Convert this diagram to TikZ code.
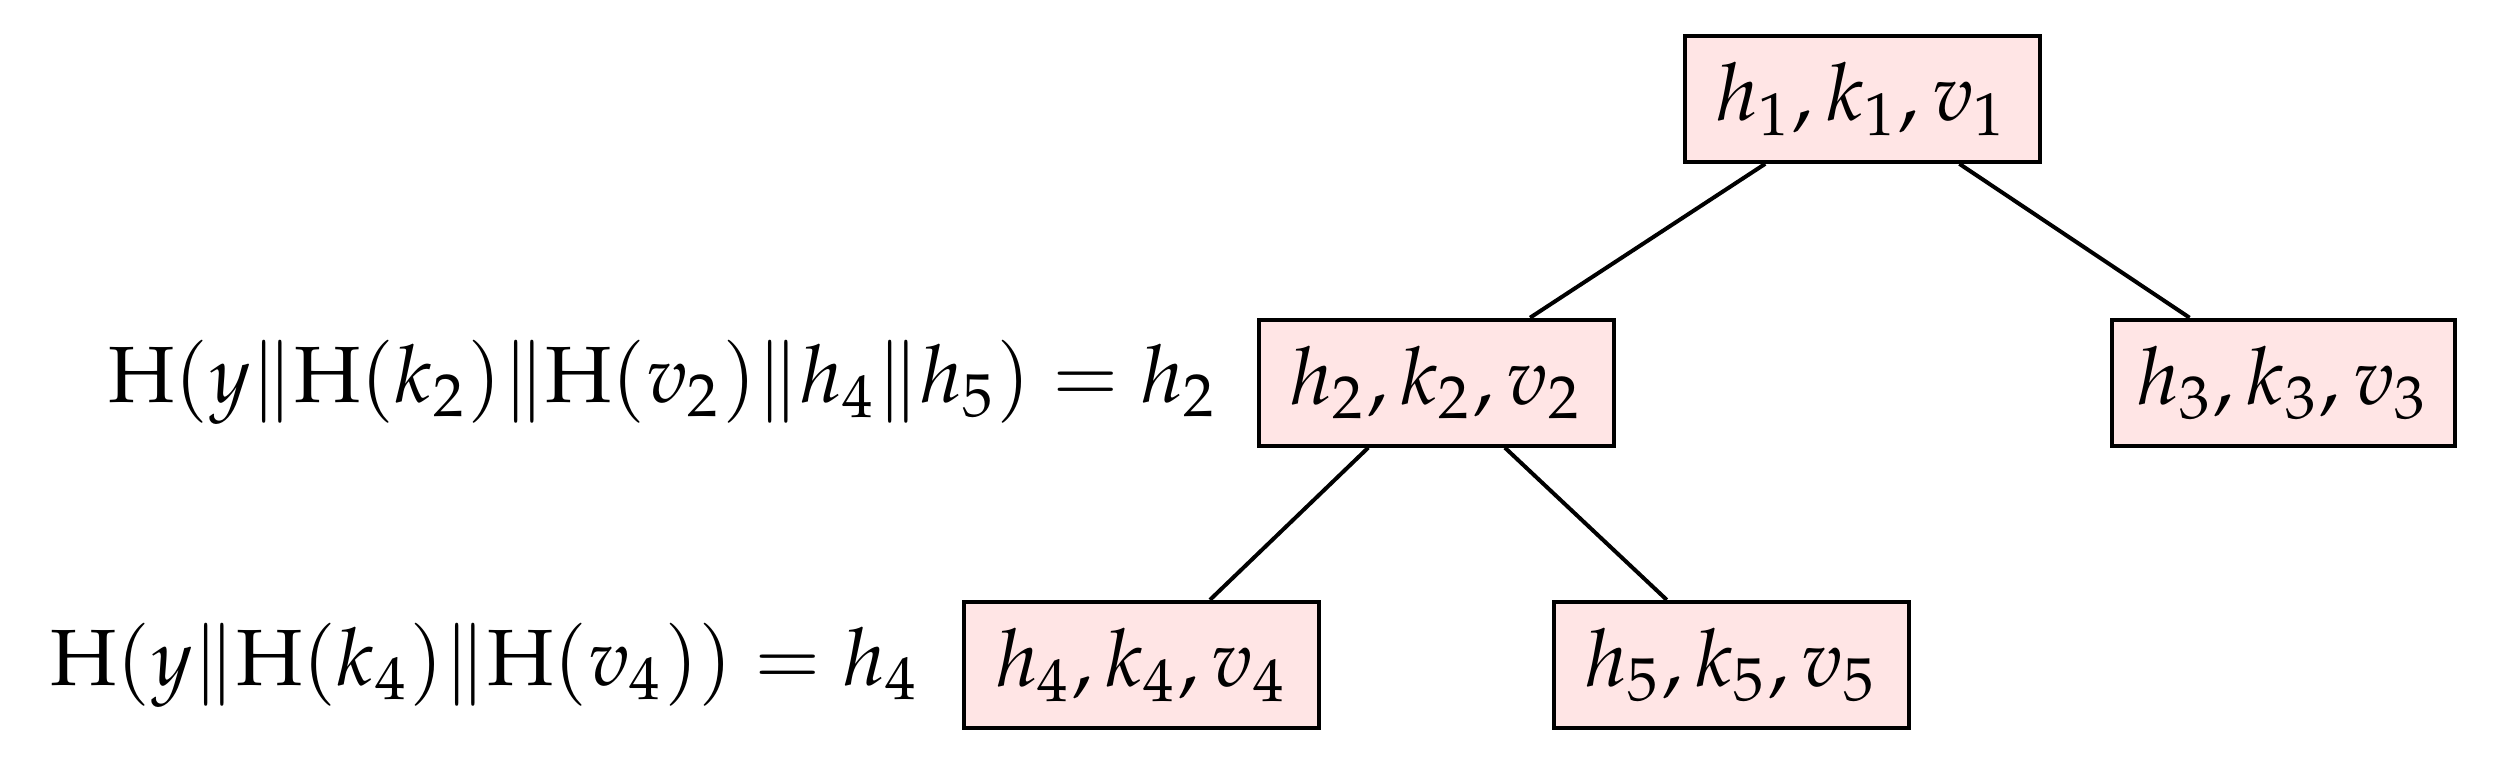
\documentclass[tikz,border=0pt]{standalone}
\usepackage{mathpazo}
\usetikzlibrary{calc}
\begin{document}
\begin{tikzpicture}[x=0.2pt,y=-0.2pt,
  kbox/.style={draw,line width=0.5pt,fill=red!10,minimum width=44.6pt,minimum height=15.8pt,inner sep=0pt},
  lbl/.style={anchor=east,inner sep=0pt},
  edge/.style={line width=0.5pt}]
\useasboundingbox (0,0) rectangle (1568,482);
\node[kbox] (n1) at (1168,62) {$h_1,k_1,v_1$};
\node[kbox] (n2) at (901,240) {$h_2,k_2,v_2$};
\node[kbox,minimum width=43pt] (n3) at (1432,240) {$h_3,k_3,v_3$};
\node[kbox] (n4) at (716,417) {$h_4,k_4,v_4$};
\node[kbox] (n5) at (1086,417) {$h_5,k_5,v_5$};
\node[lbl] (l2) at (765,240) {$\mathrm{H}(y\|\mathrm{H}(k_2)\|\mathrm{H}(v_2)\|h_4\|h_5)=h_2$};
\node[lbl] (l4) at (578,417) {$\mathrm{H}(y\|\mathrm{H}(k_4)\|\mathrm{H}(v_4))=h_4$};
\draw[edge] ($(n1.south west)!0.23!(n1.south east)$) -- ($(n2.north west)!0.76!(n2.north east)$);
\draw[edge] ($(n1.south west)!0.77!(n1.south east)$) -- ($(n3.north west)!0.23!(n3.north east)$);
\draw[edge] ($(n2.south west)!0.31!(n2.south east)$) -- ($(n4.north west)!0.69!(n4.north east)$);
\draw[edge] ($(n2.south west)!0.69!(n2.south east)$) -- ($(n5.north west)!0.32!(n5.north east)$);
\end{tikzpicture}
\end{document}
